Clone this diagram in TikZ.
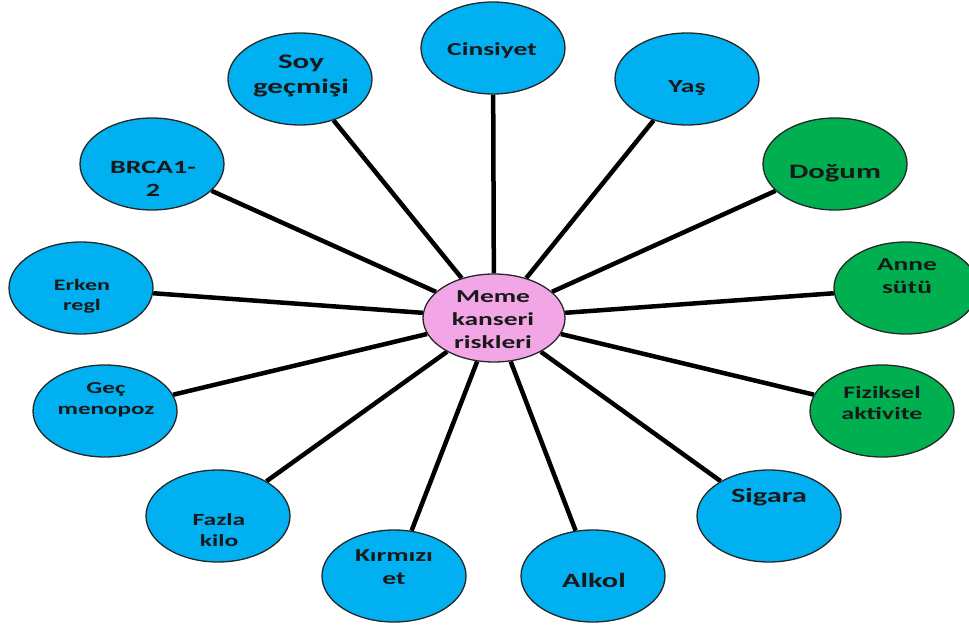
\documentclass[tikz,border=0pt]{standalone}
\usepackage{fontspec}
\setmainfont{Carlito}[FakeStretch=1.5]
\usetikzlibrary{shapes.geometric,backgrounds}
\definecolor{riskblue}{HTML}{00B0F0}
\definecolor{riskgreen}{HTML}{00B050}
\definecolor{riskpink}{HTML}{F2A6E6}
\newcommand{\fsz}[1]{\fontsize{#1pt}{\dimexpr #1pt*5/4\relax}\selectfont\bfseries}
\tikzset{
  blob/.style={ellipse, draw=black!85, line width=1.3pt, minimum width=144pt, minimum height=92pt, inner sep=0pt},
  bluebox/.style={blob, fill=riskblue},
  greenbox/.style={blob, fill=riskgreen},
  pinkbox/.style={blob, fill=riskpink, minimum width=142pt, minimum height=88pt},
  lbl/.style={align=center, inner sep=0pt, text=black!90, font=\fsz{#1}},
  spoke/.style={line width=4.5pt, black}
}
\begin{document}
\begin{tikzpicture}[x=1pt, y=-1pt]
\useasboundingbox (0,0) rectangle (969,628);
% ellipses
\node[pinkbox]  (c)       at (494,318) {};
\node[bluebox]  (soy)     at (300,79)  {};
\node[bluebox]  (cins)    at (493,48)  {};
\node[bluebox]  (yas)     at (687,79)  {};
\node[greenbox] (dogum)   at (835,164) {};
\node[greenbox] (anne)    at (906,288) {};
\node[greenbox] (fiz)     at (882,411) {};
\node[bluebox]  (sigara)  at (769,516) {};
\node[bluebox]  (alkol)   at (593,576) {};
\node[bluebox]  (kirmizi) at (394,576) {};
\node[bluebox]  (fazla)   at (218,516) {};
\node[bluebox]  (gec)     at (105,411) {};
\node[bluebox]  (erken)   at (81,288)  {};
\node[bluebox]  (brca)    at (152,164) {};
% spokes
\begin{scope}[on background layer]
\foreach \n in {soy,cins,yas,dogum,anne,fiz,sigara,alkol,kirmizi,fazla,gec,erken,brca}
  \draw[spoke] (c) -- (\n);
\end{scope}
% labels
\node[lbl=18.3] (tc)       at (493,320) {Meme\\kanseri\\riskleri};
\node[lbl=20.7] (tsoy)     at (301,76)  {Soy\\geçmişi};
\node[lbl=18.3] (tcins)    at (492,51)  {Cinsiyet};
\node[lbl=18.5] (tyas)     at (687,88)  {Yaş};
\node[lbl=20.5] (tdogum)   at (835,173) {Doğum};
\node[lbl=18.3] (tanne)    at (907,276) {Anne\\sütü};
\node[lbl=17.4] (tfiz)     at (882,403) {Fiziksel\\aktivite};
\node[lbl=20.3] (tsigara)  at (769,497) {Sigara};
\node[lbl=20.3] (talkol)   at (594,580) {Alkol};
\node[lbl=18.3] (tkirmizi) at (394,567) {Kırmızı\\et};
\node[lbl=17]   (tfazla)   at (219,530) {Fazla\\kilo};
\node[lbl=16.7] (tgec)     at (106,400) {Geç\\menopoz};
\node[lbl=16]   (terken)   at (82,296)  {Erken\\regl};
\node[lbl=18.7] (tbrca)    at (153,179) {BRCA1-\\2};
\end{tikzpicture}
\end{document}
